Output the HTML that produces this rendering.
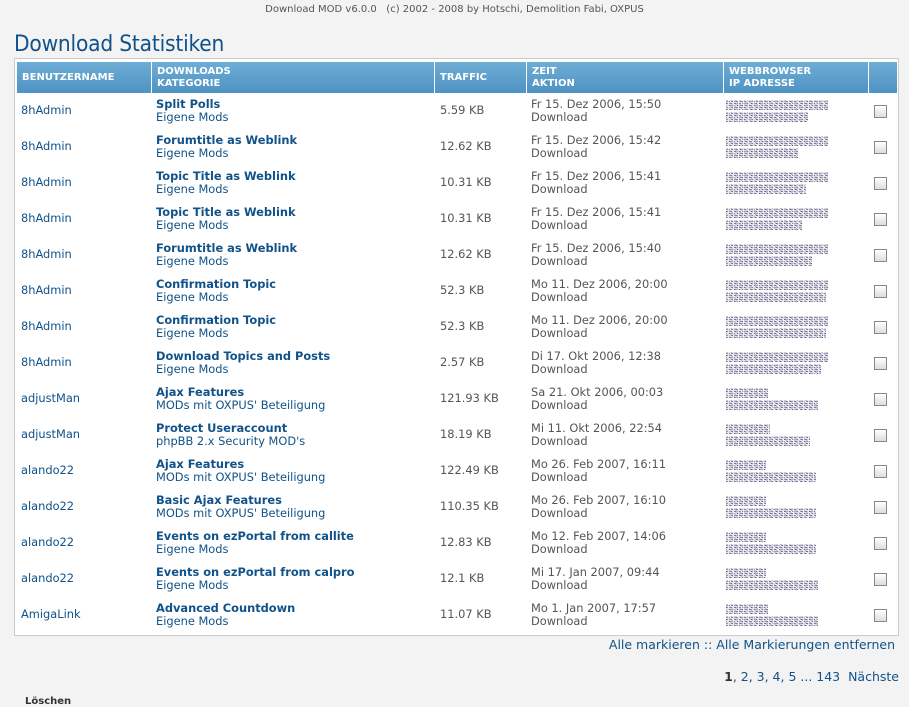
<!DOCTYPE html>
<html><head><meta charset="utf-8"><style>
*{margin:0;padding:0;box-sizing:border-box}
body{width:909px;height:702px;background:#f3f3f3;font-family:"DejaVu Sans","Liberation Sans",sans-serif;font-size:11.4px;color:#333;position:relative;overflow:hidden}
.top{position:absolute;top:4px;left:0;width:909px;text-align:center;font-size:10px;color:#555}
h1{position:absolute;top:31px;left:14px;font-size:22.5px;font-weight:normal;color:#105289;font-family:"DejaVu Sans Condensed","DejaVu Sans",sans-serif;letter-spacing:-0.2px}
.tbl{position:absolute;left:14px;top:58px;width:885px;height:578px;background:#fff;border:1px solid #ccc}
.hd{position:absolute;top:3px;height:31px;background:linear-gradient(#6eadd6,#4f93c3);color:#fff;font-weight:bold;font-size:10px;line-height:12px;padding-left:5px}
.row{position:absolute;left:0;width:883px;height:36px}
.c{position:absolute;line-height:13px}
.u{left:6px;top:11px;color:#105289}
.t{left:141px;top:5px}
.t b{color:#105289;display:block}
.t span{color:#105289}
.tr{left:425px;top:11px;color:#555}
.z{left:516px;top:5px;color:#555}
.ip{position:absolute;left:711px;height:10px;
background:
repeating-linear-gradient(90deg,transparent 0 2px,rgba(255,255,255,.7) 2px 3px,transparent 3px 5px),
repeating-linear-gradient(0deg,transparent 0 1px,rgba(255,255,255,.6) 1px 2px),
repeating-linear-gradient(37deg,#4a5fa0 0 1px,#9ab8d8 1px 2px,#d89080 2px 3px,#6a6a90 3px 4px,#fff 4px 5px)}
.cb{position:absolute;left:859px;top:12px;width:13px;height:13px;border:1px solid #888;background:linear-gradient(#fff,#ddd)}
.links{position:absolute;top:637px;right:14px;color:#105289;font-size:12.5px}
.pg{position:absolute;top:669px;right:10px;color:#105289;font-size:12.5px}
.lo{position:absolute;top:696px;left:25px;font-size:10px;font-weight:bold;color:#333}
</style></head><body>
<div class="top">Download MOD v6.0.0 &nbsp;&nbsp;(c) 2002 - 2008 by Hotschi, Demolition Fabi, OXPUS</div>
<h1>Download Statistiken</h1>
<div class="tbl">
<div class="hd" style="left:2px;width:134px;line-height:31px">BENUTZERNAME</div>
<div class="hd" style="left:137px;width:282px;padding-top:4px">DOWNLOADS<br>KATEGORIE</div>
<div class="hd" style="left:420px;width:91px;line-height:31px">TRAFFIC</div>
<div class="hd" style="left:512px;width:196px;padding-top:4px">ZEIT<br>AKTION</div>
<div class="hd" style="left:709px;width:144px;padding-top:4px">WEBBROWSER<br>IP ADRESSE</div>
<div class="hd" style="left:854px;width:28px"></div>

<div class="row" style="top:34px"><div class="c u">8hAdmin</div><div class="c t"><b>Split Polls</b><span>Eigene Mods</span></div><div class="c tr">5.59 KB</div><div class="c z">Fr 15. Dez 2006, 15:50<br>Download</div><div class="ip" style="top:7px;width:102px"></div><div class="ip" style="top:19px;width:82px"></div><div class="cb"></div></div>
<div class="row" style="top:70px"><div class="c u">8hAdmin</div><div class="c t"><b>Forumtitle as Weblink</b><span>Eigene Mods</span></div><div class="c tr">12.62 KB</div><div class="c z">Fr 15. Dez 2006, 15:42<br>Download</div><div class="ip" style="top:7px;width:102px"></div><div class="ip" style="top:19px;width:72px"></div><div class="cb"></div></div>
<div class="row" style="top:106px"><div class="c u">8hAdmin</div><div class="c t"><b>Topic Title as Weblink</b><span>Eigene Mods</span></div><div class="c tr">10.31 KB</div><div class="c z">Fr 15. Dez 2006, 15:41<br>Download</div><div class="ip" style="top:7px;width:102px"></div><div class="ip" style="top:19px;width:80px"></div><div class="cb"></div></div>
<div class="row" style="top:142px"><div class="c u">8hAdmin</div><div class="c t"><b>Topic Title as Weblink</b><span>Eigene Mods</span></div><div class="c tr">10.31 KB</div><div class="c z">Fr 15. Dez 2006, 15:41<br>Download</div><div class="ip" style="top:7px;width:102px"></div><div class="ip" style="top:19px;width:76px"></div><div class="cb"></div></div>
<div class="row" style="top:178px"><div class="c u">8hAdmin</div><div class="c t"><b>Forumtitle as Weblink</b><span>Eigene Mods</span></div><div class="c tr">12.62 KB</div><div class="c z">Fr 15. Dez 2006, 15:40<br>Download</div><div class="ip" style="top:7px;width:102px"></div><div class="ip" style="top:19px;width:86px"></div><div class="cb"></div></div>
<div class="row" style="top:214px"><div class="c u">8hAdmin</div><div class="c t"><b>Confirmation Topic</b><span>Eigene Mods</span></div><div class="c tr">52.3 KB</div><div class="c z">Mo 11. Dez 2006, 20:00<br>Download</div><div class="ip" style="top:7px;width:102px"></div><div class="ip" style="top:19px;width:100px"></div><div class="cb"></div></div>
<div class="row" style="top:250px"><div class="c u">8hAdmin</div><div class="c t"><b>Confirmation Topic</b><span>Eigene Mods</span></div><div class="c tr">52.3 KB</div><div class="c z">Mo 11. Dez 2006, 20:00<br>Download</div><div class="ip" style="top:7px;width:102px"></div><div class="ip" style="top:19px;width:100px"></div><div class="cb"></div></div>
<div class="row" style="top:286px"><div class="c u">8hAdmin</div><div class="c t"><b>Download Topics and Posts</b><span>Eigene Mods</span></div><div class="c tr">2.57 KB</div><div class="c z">Di 17. Okt 2006, 12:38<br>Download</div><div class="ip" style="top:7px;width:102px"></div><div class="ip" style="top:19px;width:95px"></div><div class="cb"></div></div>
<div class="row" style="top:322px"><div class="c u">adjustMan</div><div class="c t"><b>Ajax Features</b><span>MODs mit OXPUS' Beteiligung</span></div><div class="c tr">121.93 KB</div><div class="c z">Sa 21. Okt 2006, 00:03<br>Download</div><div class="ip" style="top:7px;width:42px"></div><div class="ip" style="top:19px;width:92px"></div><div class="cb"></div></div>
<div class="row" style="top:358px"><div class="c u">adjustMan</div><div class="c t"><b>Protect Useraccount</b><span>phpBB 2.x Security MOD's</span></div><div class="c tr">18.19 KB</div><div class="c z">Mi 11. Okt 2006, 22:54<br>Download</div><div class="ip" style="top:7px;width:44px"></div><div class="ip" style="top:19px;width:84px"></div><div class="cb"></div></div>
<div class="row" style="top:394px"><div class="c u">alando22</div><div class="c t"><b>Ajax Features</b><span>MODs mit OXPUS' Beteiligung</span></div><div class="c tr">122.49 KB</div><div class="c z">Mo 26. Feb 2007, 16:11<br>Download</div><div class="ip" style="top:7px;width:40px"></div><div class="ip" style="top:19px;width:90px"></div><div class="cb"></div></div>
<div class="row" style="top:430px"><div class="c u">alando22</div><div class="c t"><b>Basic Ajax Features</b><span>MODs mit OXPUS' Beteiligung</span></div><div class="c tr">110.35 KB</div><div class="c z">Mo 26. Feb 2007, 16:10<br>Download</div><div class="ip" style="top:7px;width:40px"></div><div class="ip" style="top:19px;width:90px"></div><div class="cb"></div></div>
<div class="row" style="top:466px"><div class="c u">alando22</div><div class="c t"><b>Events on ezPortal from callite</b><span>Eigene Mods</span></div><div class="c tr">12.83 KB</div><div class="c z">Mo 12. Feb 2007, 14:06<br>Download</div><div class="ip" style="top:7px;width:40px"></div><div class="ip" style="top:19px;width:90px"></div><div class="cb"></div></div>
<div class="row" style="top:502px"><div class="c u">alando22</div><div class="c t"><b>Events on ezPortal from calpro</b><span>Eigene Mods</span></div><div class="c tr">12.1 KB</div><div class="c z">Mi 17. Jan 2007, 09:44<br>Download</div><div class="ip" style="top:7px;width:40px"></div><div class="ip" style="top:19px;width:92px"></div><div class="cb"></div></div>
<div class="row" style="top:538px"><div class="c u">AmigaLink</div><div class="c t"><b>Advanced Countdown</b><span>Eigene Mods</span></div><div class="c tr">11.07 KB</div><div class="c z">Mo 1. Jan 2007, 17:57<br>Download</div><div class="ip" style="top:7px;width:42px"></div><div class="ip" style="top:19px;width:92px"></div><div class="cb"></div></div>
</div>
<div class="links">Alle markieren :: Alle Markierungen entfernen</div>
<div class="pg"><b style="color:#333">1</b>, 2, 3, 4, 5 ... 143 &nbsp;Nächste</div>
<div class="lo">Löschen</div>
</body></html>
